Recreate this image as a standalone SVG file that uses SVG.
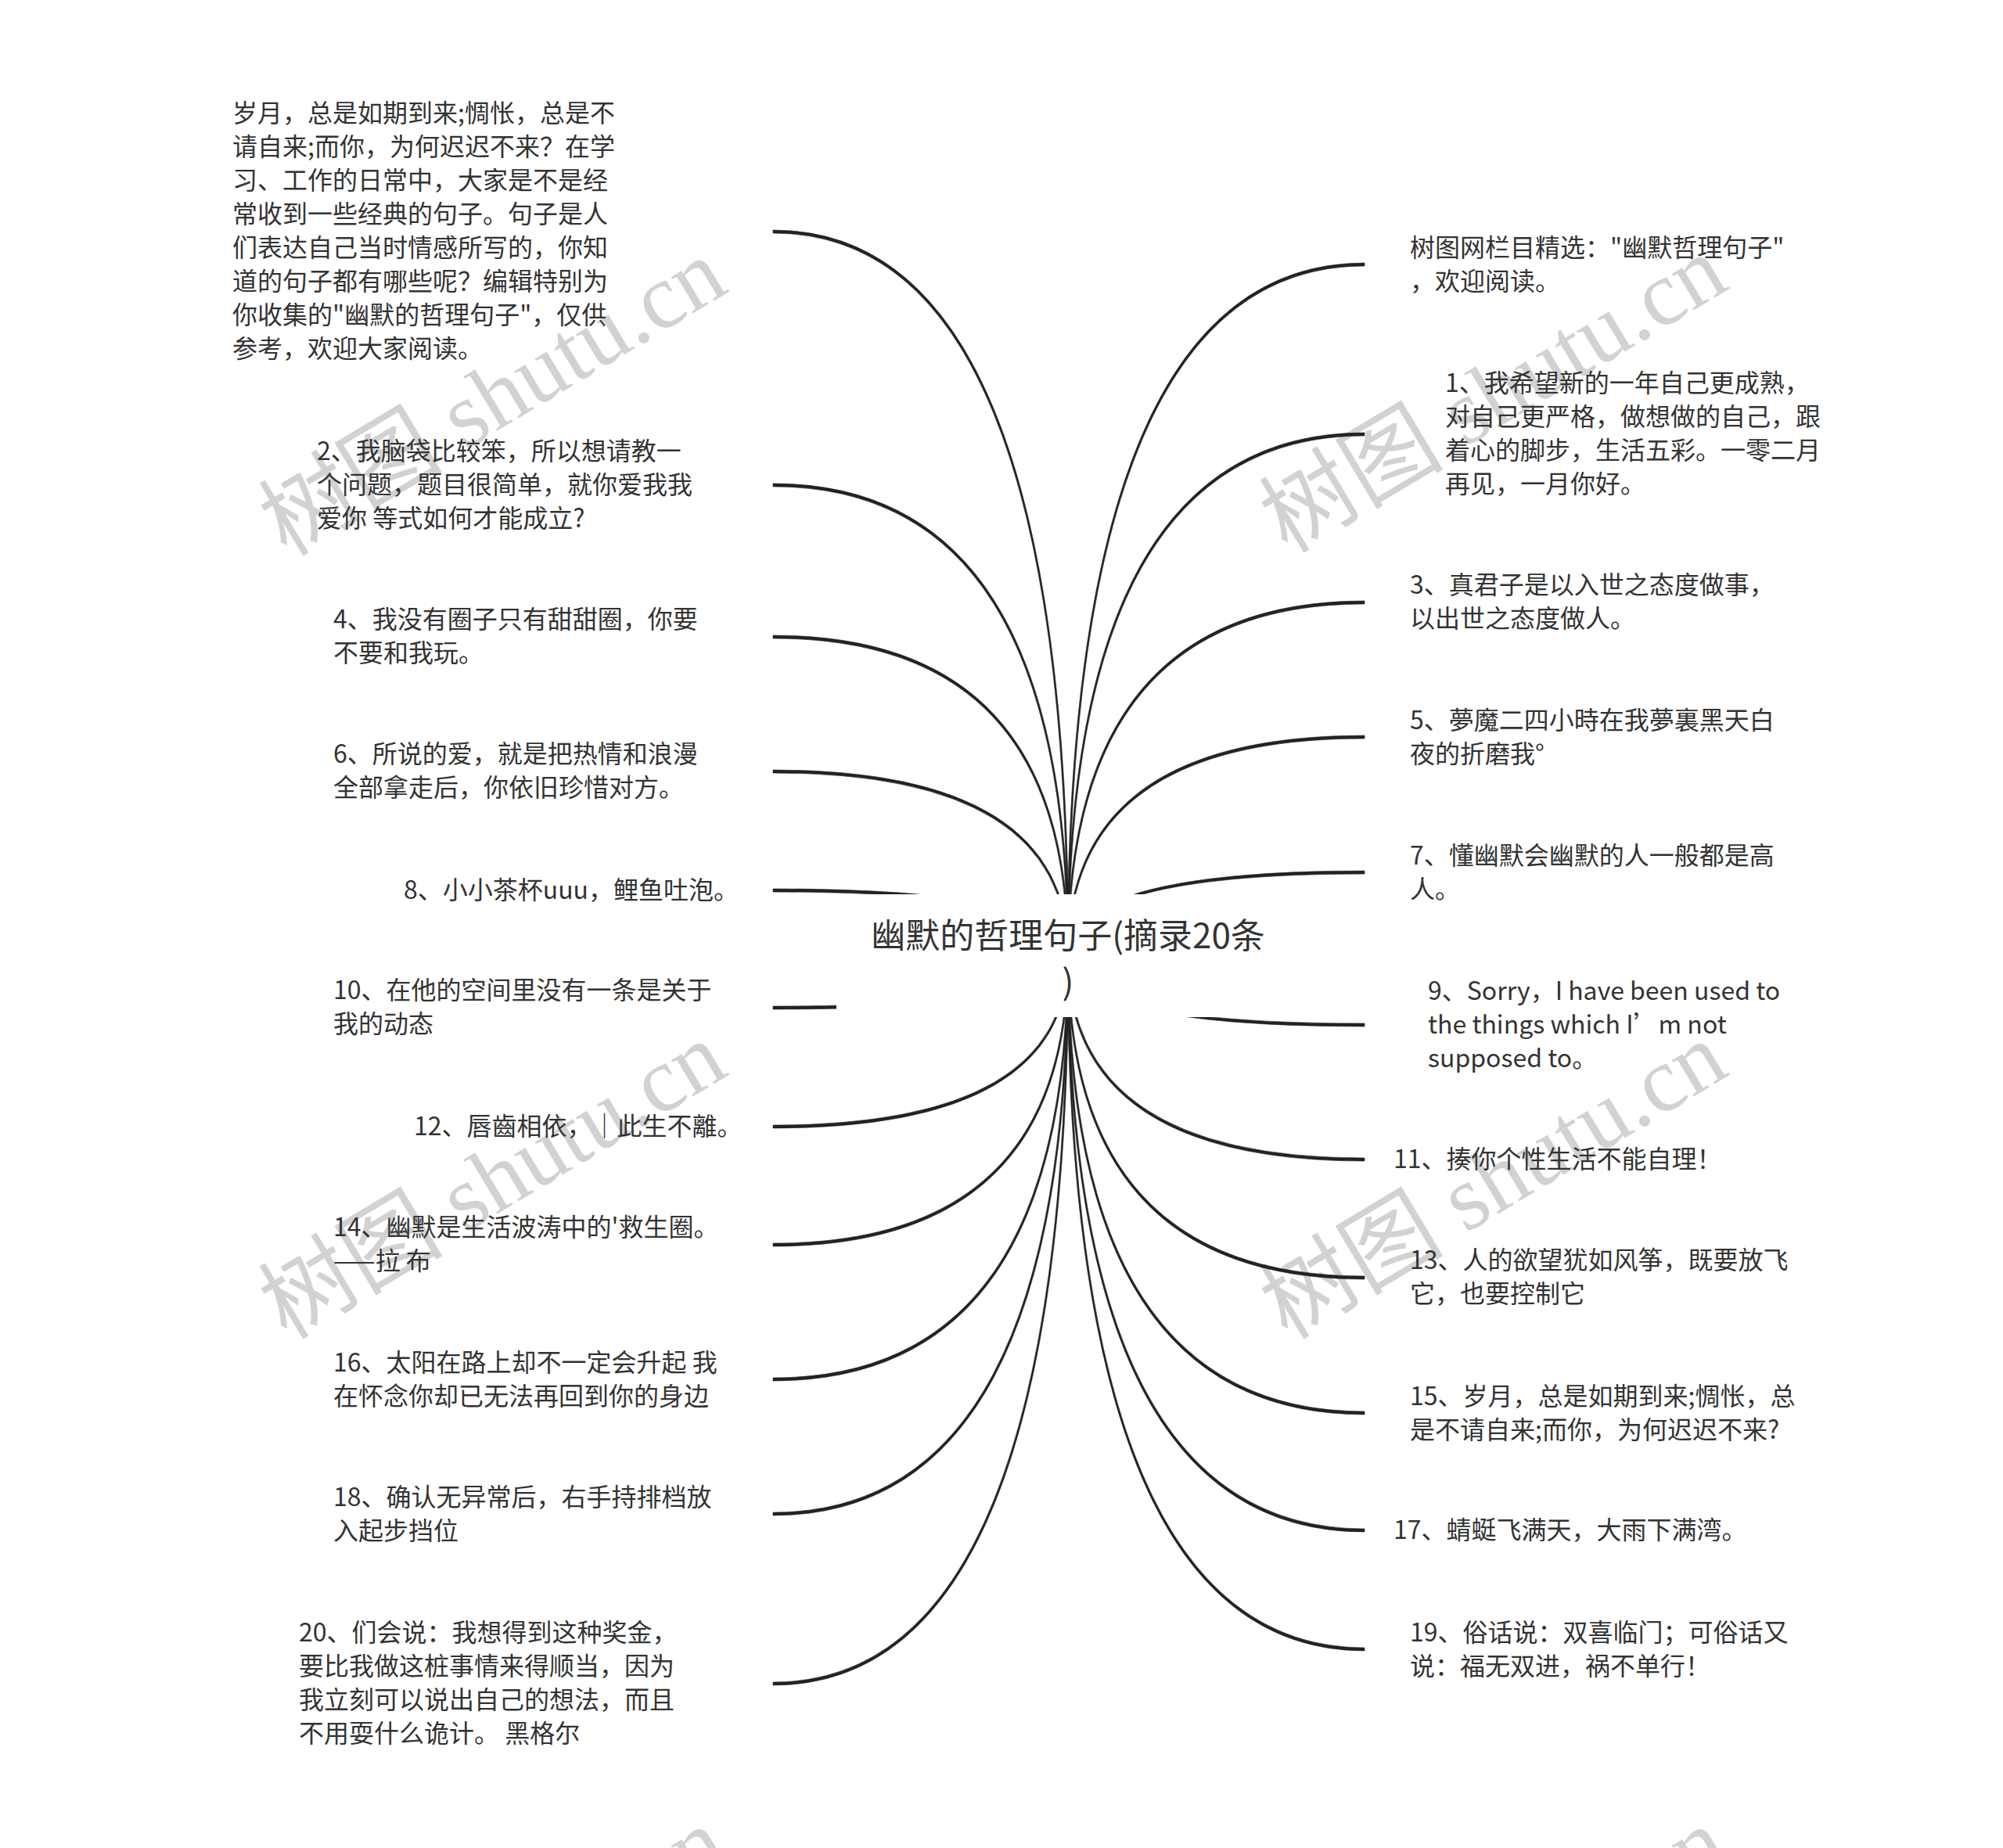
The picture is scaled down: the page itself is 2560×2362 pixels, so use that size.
<svg xmlns="http://www.w3.org/2000/svg" width="2560" height="2362" viewBox="0 0 2560 2362">
<style>
.t{font-family:"Noto Sans CJK SC","Noto Sans",sans-serif;font-size:32px;fill:#333}
.title{font-family:"Noto Sans CJK SC","Noto Sans",sans-serif;font-size:44px;fill:#333;text-anchor:middle}
.wm{font-family:"Liberation Serif","Noto Sans CJK SC",serif;font-size:118px;fill:#d2d2d2;text-anchor:middle}
.c{fill:#222;stroke:#222;stroke-width:0.6}
</style>
<rect width="2560" height="2362" fill="#fff"/>
<g id="watermarks">
<text class="wm" transform="translate(650,542) rotate(-31)">树图 shutu.cn</text>
<text class="wm" transform="translate(1929,538) rotate(-31)">树图 shutu.cn</text>
<text class="wm" transform="translate(650,1543) rotate(-31)">树图 shutu.cn</text>
<text class="wm" transform="translate(1929,1543) rotate(-31)">树图 shutu.cn</text>
<text class="wm" transform="translate(650,2547) rotate(-31)">树图 shutu.cn</text>
<text class="wm" transform="translate(1929,2547) rotate(-31)">树图 shutu.cn</text>
</g>
<g id="connectors">
<path class="c" d="M1366,1221 Q1366,294 988,294 L988,298 Q1364,298 1364,1221 Z"/>
<path class="c" d="M1366,1221 Q1366,618 988,618 L988,622 Q1364,622 1364,1221 Z"/>
<path class="c" d="M1366,1221 Q1366,812 988,812 L988,816 Q1364,816 1364,1221 Z"/>
<path class="c" d="M1366,1221 Q1366,984 988,984 L988,988 Q1364,988 1364,1221 Z"/>
<path class="c" d="M1366,1221 Q1366,1136 988,1136 L988,1140 Q1364,1140 1364,1221 Z"/>
<path class="c" d="M1366,1221 Q1366,1290 988,1290 L988,1286 Q1364,1286 1364,1221 Z"/>
<path class="c" d="M1366,1221 Q1366,1442 988,1442 L988,1438 Q1364,1438 1364,1221 Z"/>
<path class="c" d="M1366,1221 Q1366,1593 988,1593 L988,1589 Q1364,1589 1364,1221 Z"/>
<path class="c" d="M1366,1221 Q1366,1765 988,1765 L988,1761 Q1364,1761 1364,1221 Z"/>
<path class="c" d="M1366,1221 Q1366,1937 988,1937 L988,1933 Q1364,1933 1364,1221 Z"/>
<path class="c" d="M1366,1221 Q1366,2154 988,2154 L988,2150 Q1364,2150 1364,1221 Z"/>
<path class="c" d="M1364,1221 Q1364,336 1744,336 L1744,340 Q1366,340 1366,1221 Z"/>
<path class="c" d="M1364,1221 Q1364,553 1744,553 L1744,557 Q1366,557 1366,1221 Z"/>
<path class="c" d="M1364,1221 Q1364,768 1744,768 L1744,772 Q1366,772 1366,1221 Z"/>
<path class="c" d="M1364,1221 Q1364,940 1744,940 L1744,944 Q1366,944 1366,1221 Z"/>
<path class="c" d="M1364,1221 Q1364,1113 1744,1113 L1744,1117 Q1366,1117 1366,1221 Z"/>
<path class="c" d="M1364,1221 Q1364,1312 1744,1312 L1744,1308 Q1366,1308 1366,1221 Z"/>
<path class="c" d="M1364,1221 Q1364,1484 1744,1484 L1744,1480 Q1366,1480 1366,1221 Z"/>
<path class="c" d="M1364,1221 Q1364,1635 1744,1635 L1744,1631 Q1366,1631 1366,1221 Z"/>
<path class="c" d="M1364,1221 Q1364,1808 1744,1808 L1744,1804 Q1366,1804 1366,1221 Z"/>
<path class="c" d="M1364,1221 Q1364,1958 1744,1958 L1744,1954 Q1366,1954 1366,1221 Z"/>
<path class="c" d="M1364,1221 Q1364,2110 1744,2110 L1744,2106 Q1366,2106 1366,1221 Z"/>
</g>
<g id="root">
<rect x="1069" y="1143" width="592" height="157" fill="#fff"/>
<text class="title" x="1365" y="1212">幽默的哲理句子(摘录20条</text>
<text class="title" x="1365" y="1271">)</text>
</g>
<g id="n-intro-left">
<text class="t" x="297" y="156">岁月，总是如期到来;惆怅，总是不</text>
<text class="t" x="297" y="199">请自来;而你，为何迟迟不来？在学</text>
<text class="t" x="297" y="242">习、工作的日常中，大家是不是经</text>
<text class="t" x="297" y="285">常收到一些经典的句子。句子是人</text>
<text class="t" x="297" y="328">们表达自己当时情感所写的，你知</text>
<text class="t" x="297" y="371">道的句子都有哪些呢？编辑特别为</text>
<text class="t" x="297" y="414">你收集的"幽默的哲理句子"，仅供</text>
<text class="t" x="297" y="457">参考，欢迎大家阅读。</text>
</g>
<g id="n2">
<text class="t" x="405" y="588">2、我脑袋比较笨，所以想请教一</text>
<text class="t" x="405" y="631">个问题，题目很简单，就你爱我我</text>
<text class="t" x="405" y="674">爱你 等式如何才能成立?</text>
</g>
<g id="n4">
<text class="t" x="426" y="803">4、我没有圈子只有甜甜圈，你要</text>
<text class="t" x="426" y="846">不要和我玩。</text>
</g>
<g id="n6">
<text class="t" x="426" y="975">6、所说的爱，就是把热情和浪漫</text>
<text class="t" x="426" y="1018">全部拿走后，你依旧珍惜对方。</text>
</g>
<g id="n8">
<text class="t" x="516" y="1149">8、小小茶杯uuu，鲤鱼吐泡。</text>
</g>
<g id="n10">
<text class="t" x="426" y="1277">10、在他的空间里没有一条是关于</text>
<text class="t" x="426" y="1320">我的动态</text>
</g>
<g id="n12">
<text class="t" x="529" y="1451">12、唇齒相依，｜此生不離。</text>
</g>
<g id="n14">
<text class="t" x="426" y="1580">14、幽默是生活波涛中的'救生圈。</text>
<text class="t" x="426" y="1623">——拉 布</text>
</g>
<g id="n16">
<text class="t" x="426" y="1753">16、太阳在路上却不一定会升起 我</text>
<text class="t" x="426" y="1796">在怀念你却已无法再回到你的身边</text>
</g>
<g id="n18">
<text class="t" x="426" y="1925">18、确认无异常后，右手持排档放</text>
<text class="t" x="426" y="1968">入起步挡位</text>
</g>
<g id="n20">
<text class="t" x="382" y="2098">20、们会说：我想得到这种奖金，</text>
<text class="t" x="382" y="2141">要比我做这桩事情来得顺当，因为</text>
<text class="t" x="382" y="2184">我立刻可以说出自己的想法，而且</text>
<text class="t" x="382" y="2227">不用耍什么诡计。 黑格尔</text>
</g>
<g id="n-intro-right">
<text class="t" x="1802" y="328">树图网栏目精选："幽默哲理句子"</text>
<text class="t" x="1802" y="371">，欢迎阅读。</text>
</g>
<g id="n1">
<text class="t" x="1847" y="501">1、我希望新的一年自己更成熟，</text>
<text class="t" x="1847" y="544">对自己更严格，做想做的自己，跟</text>
<text class="t" x="1847" y="587">着心的脚步，生活五彩。一零二月</text>
<text class="t" x="1847" y="630">再见，一月你好。</text>
</g>
<g id="n3">
<text class="t" x="1802" y="759">3、真君子是以入世之态度做事，</text>
<text class="t" x="1802" y="802">以出世之态度做人。</text>
</g>
<g id="n5">
<text class="t" x="1802" y="932">5、夢魔二四小時在我夢裏黑天白</text>
<text class="t" x="1802" y="975">夜的折磨我°</text>
</g>
<g id="n7">
<text class="t" x="1802" y="1105">7、懂幽默会幽默的人一般都是高</text>
<text class="t" x="1802" y="1148">人。</text>
</g>
<g id="n9">
<text class="t" x="1825" y="1278">9、Sorry，I have been used to</text>
<text class="t" x="1825" y="1321">the things which I’m not</text>
<text class="t" x="1825" y="1364">supposed to。</text>
</g>
<g id="n11">
<text class="t" x="1781" y="1493">11、揍你个性生活不能自理！</text>
</g>
<g id="n13">
<text class="t" x="1802" y="1622">13、人的欲望犹如风筝，既要放飞</text>
<text class="t" x="1802" y="1665">它，也要控制它</text>
</g>
<g id="n15">
<text class="t" x="1802" y="1796">15、岁月，总是如期到来;惆怅，总</text>
<text class="t" x="1802" y="1839">是不请自来;而你，为何迟迟不来?</text>
</g>
<g id="n17">
<text class="t" x="1781" y="1967">17、蜻蜓飞满天，大雨下满湾。</text>
</g>
<g id="n19">
<text class="t" x="1802" y="2098">19、俗话说：双喜临门；可俗话又</text>
<text class="t" x="1802" y="2141">说：福无双进，祸不单行！</text>
</g>
</svg>
